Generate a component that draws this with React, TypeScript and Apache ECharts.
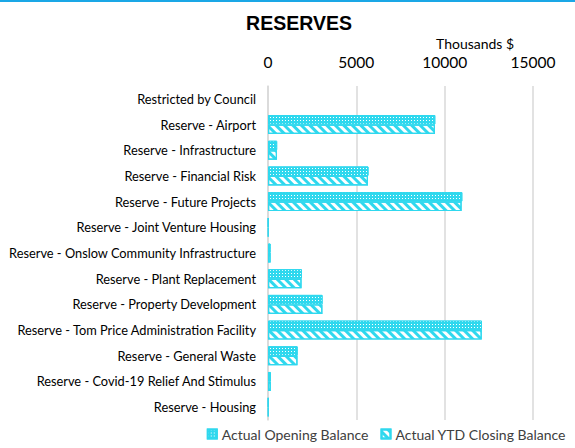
import React, { useEffect, useRef } from "react";
import * as echarts from "echarts";

const categories = [
  "Restricted by Council",
  "Reserve - Airport",
  "Reserve - Infrastructure",
  "Reserve - Financial Risk",
  "Reserve - Future Projects",
  "Reserve - Joint Venture Housing",
  "Reserve - Onslow Community Infrastructure",
  "Reserve - Plant Replacement",
  "Reserve - Property Development",
  "Reserve - Tom Price Administration Facility",
  "Reserve - General Waste",
  "Reserve - Covid-19 Relief And Stimulus",
  "Reserve - Housing",
];
const openingBalance = [null, 9470, 520, 5690, 11000, 20, 150, 1920, 3090, 12110, 1680, 170, 20];
const closingBalance = [null, 9450, 510, 5660, 10960, 20, 150, 1900, 3080, 12100, 1670, 160, 20];
const xTicks = [0, 5000, 10000, 15000];

const CYAN = "#2fd8ee";
const FONT = "Lato, 'Open Sans', sans-serif";

export default function App() {
  const ref = useRef<HTMLDivElement>(null);
  useEffect(() => {
    if (!ref.current) return;
    const chart = echarts.init(ref.current, null, { renderer: "svg" });
    chart.setOption({
      animation: false,
      backgroundColor: "#fff",
      title: {
        text: "RESERVES",
        left: 294,
        textAlign: "center",
        top: 8,
        textStyle: { fontFamily: "Liberation Sans, Arial", fontWeight: "bold", fontSize: 19.5, color: "#000" },
      },
      graphic: [
        { type: "rect", shape: { x: 0, y: 0, width: 575, height: 2 }, style: { fill: "#1aa7e6" } },
        {
          type: "text",
          left: 436,
          top: 36,
          style: { text: "Thousands $", font: "14px " + FONT, fill: "#000" },
        },
      ],
      legend: {
        bottom: 2,
        right: 4,
        width: 420,
        orient: "horizontal",
        icon: "rect",
        itemWidth: 9,
        itemHeight: 9,
        itemGap: 12,
        textStyle: { fontFamily: FONT, fontSize: 14, color: "#404040" },
        data: ["Actual Opening Balance", "Actual YTD Closing Balance"],
      },
      grid: { left: 268, right: 42, top: 86, bottom: 28, containLabel: false },
      xAxis: {
        type: "value",
        position: "top",
        min: 0,
        max: xTicks[xTicks.length - 1],
        interval: 5000,
        axisLine: { show: false },
        axisTick: { show: false },
        axisLabel: {
          margin: 16,
          fontFamily: FONT,
          fontSize: 15.5,
          color: "#000",
          formatter: (v: number) => String(v),
        },
        splitLine: { lineStyle: { color: "#d9d9d9", width: 1.5 } },
      },
      yAxis: {
        type: "category",
        data: categories,
        inverse: true,
        axisLine: { show: true, lineStyle: { color: "#d9d9d9", width: 1.5 } },
        axisTick: { show: false },
        axisLabel: { margin: 12, fontFamily: FONT, fontSize: 12.8, color: "#000" },
      },
      series: [
        {
          name: "Actual Opening Balance",
          type: "bar",
          data: openingBalance,
          barWidth: 9.5,
          barGap: "0%",
          itemStyle: {
            color: CYAN,
            borderColor: CYAN,
            borderWidth: 1,
            decal: {
              symbol: "rect",
              color: "#ffffff",
              symbolSize: 1,
              dashArrayX: [1, 2],
              dashArrayY: [1, 2],
              rotation: 0,
            },
          },
        },
        {
          name: "Actual YTD Closing Balance",
          type: "bar",
          data: closingBalance,
          barWidth: 9.5,
          itemStyle: {
            color: "#ffffff",
            borderColor: CYAN,
            borderWidth: 1.2,
            decal: {
              symbol: "rect",
              color: CYAN,
              backgroundColor: "#ffffff",
              dashArrayX: [1, 0],
              dashArrayY: [3, 3],
              rotation: Math.PI / 4,
            },
          },
        },
      ],
    });
    return () => chart.dispose();
  }, []);
  return <div ref={ref} style={{ width: 575, height: 448, position: "absolute", left: 0, top: 0 }} />;
}
